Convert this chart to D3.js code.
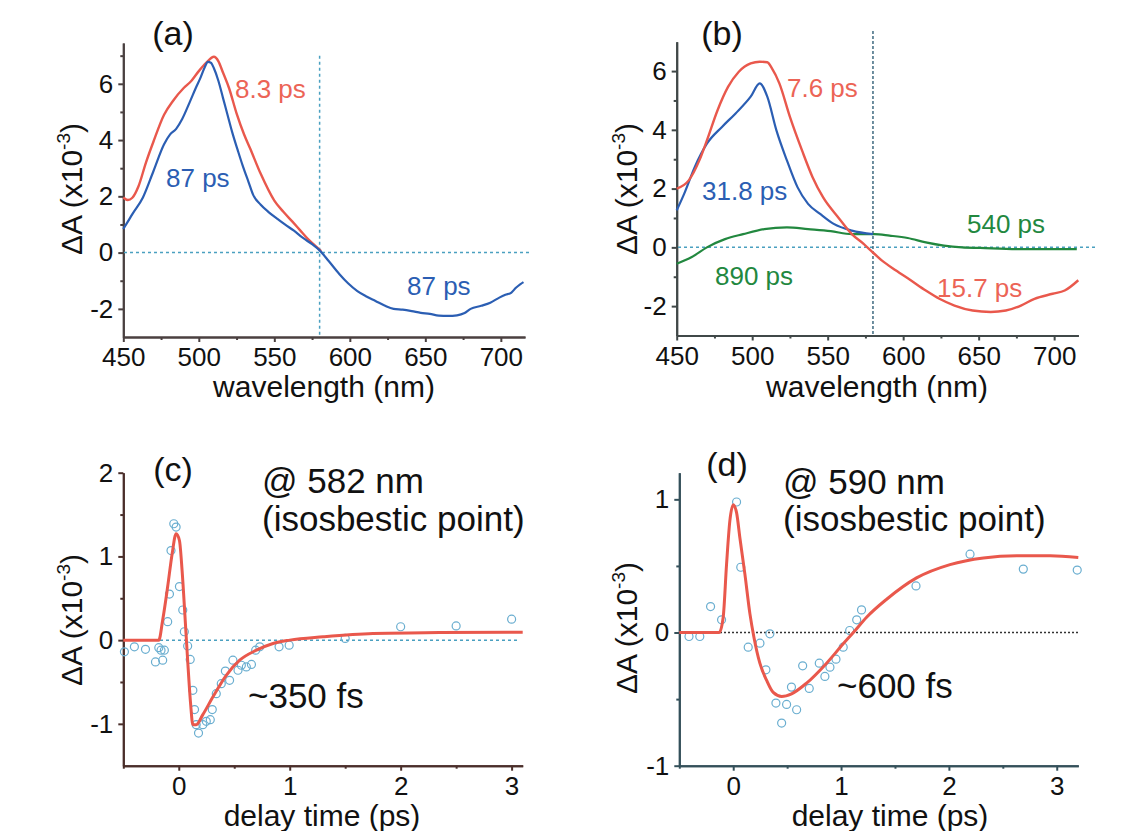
<!DOCTYPE html>
<html>
<head>
<meta charset="utf-8">
<title>Transient absorption</title>
<script src="https://d3js.org/d3.v7.min.js"></script>
<style>
  body { margin: 0; background: #fff; }
  text { font-family: "Liberation Sans", Arial, sans-serif; }
</style>
</head>
<body>
<div id="chart"></div>
<script>
/* global d3 */

// (a) spectra, 8.3 ps and 87 ps components
const wlA_red  = [450,453,456,460,465,470,477,483,490,495,500,505,510,513,516,520,525,530,534,541,550,556,562,567,572,577,581];
const valA_red = [1.96,1.87,1.95,2.35,3.2,3.95,4.9,5.4,5.85,6.1,6.45,6.75,6.96,6.8,6.4,5.85,4.95,4.2,3.7,2.8,1.85,1.45,1.1,0.8,0.5,0.25,0.05];
const wlA_blue  = [450,453,456,463,470,477,481,485,489,494,498,501,504,506,508,510,513,516,519,522,526,529,533,536,541,546,552,557,563,569,575,580,586,593,599,605,611,617,623,629,635,641,647,653,659,665,671,676,680,687,693,699,703,707,710,713,715];
const valA_blue = [0.84,1.1,1.37,1.96,2.9,3.85,4.2,4.4,4.75,5.35,5.85,6.2,6.6,6.78,6.75,6.55,6.1,5.5,4.9,4.3,3.6,3.1,2.5,2.05,1.7,1.45,1.2,1.0,0.78,0.52,0.3,0.08,-0.3,-0.76,-1.1,-1.37,-1.56,-1.72,-1.88,-2.0,-2.03,-2.08,-2.14,-2.18,-2.24,-2.25,-2.23,-2.15,-2.0,-1.89,-1.78,-1.6,-1.5,-1.42,-1.25,-1.12,-1.05];

// (b) spectra, 7.6/15.7 ps, 31.8 ps and 890/540 ps components
const wlB_red  = [450,458,465,470,477,484,491,499,505,510,513,518,525,533,540,547,557,566,574,579,586,595,605,615,624,634,646,658,668,678,687,699,707,716];
const valB_red = [2.0,2.28,2.96,3.64,4.66,5.46,5.97,6.26,6.32,6.3,6.1,5.58,4.44,3.3,2.39,1.7,1.02,0.45,0.11,-0.13,-0.45,-0.78,-1.12,-1.47,-1.75,-1.98,-2.15,-2.2,-2.15,-1.98,-1.75,-1.58,-1.47,-1.12];
const wlB_blue  = [450,455,462,470,480,489,499,505,510,516,523,530,537,545,554,566,580];
const valB_blue = [1.26,1.83,2.74,3.53,4.1,4.56,5.13,5.58,5.13,3.99,2.96,2.05,1.48,1.14,0.8,0.57,0.45];
const wlB_green  = [450,460,470,482,494,508,523,537,552,566,581,591,603,615,627,639,651,675,699,715];
const valB_green = [-0.56,-0.33,0,0.28,0.45,0.62,0.68,0.62,0.55,0.45,0.45,0.4,0.32,0.17,0.06,0,-0.02,-0.06,-0.06,-0.06];

// (c) kinetics @ 582 nm
const tC_fit = [-0.5,-0.18,-0.145,-0.1,-0.06,-0.024,0.006,0.03,0.058,0.08,0.106,0.127,0.157,0.217,0.307,0.428,0.549,0.7,0.85,1.0,1.3,1.75,2.35,3.1];
const vC_fit = [0,0,0.24,0.64,1.03,1.27,1.19,0.83,0.24,-0.24,-0.75,-1.01,-1.01,-0.89,-0.68,-0.42,-0.24,-0.12,-0.04,0,0.04,0.08,0.09,0.095];
const tC_pts = [-0.49,-0.4,-0.3,-0.21,-0.18,-0.16,-0.145,-0.13,-0.1,-0.084,-0.07,-0.045,-0.024,0.006,0.036,0.05,0.08,0.103,0.127,0.142,0.157,0.178,0.217,0.248,0.284,0.302,0.338,0.383,0.42,0.458,0.488,0.534,0.564,0.609,0.655,0.693,0.73,0.904,0.995,1.5,2.0,2.5,3.0];
const vC_pts = [-0.14,-0.08,-0.11,-0.26,-0.09,-0.12,-0.24,-0.12,0.22,0.55,1.07,1.39,1.35,0.64,0.36,0.1,-0.07,-0.23,-0.6,-0.83,-1.01,-1.11,-1.01,-0.97,-0.95,-0.83,-0.64,-0.52,-0.37,-0.48,-0.24,-0.36,-0.3,-0.32,-0.29,-0.12,-0.08,-0.08,-0.06,0.02,0.16,0.17,0.25];

// (d) kinetics @ 590 nm
const tD_fit = [-0.5,-0.13,-0.093,-0.062,-0.031,0,0.031,0.062,0.108,0.155,0.192,0.247,0.31,0.371,0.449,0.541,0.68,0.866,1.02,1.114,1.237,1.423,1.7,2.01,2.32,2.63,2.94,3.2];
const vD_fit = [0,0,0.115,0.51,0.84,0.96,0.9,0.71,0.44,0.14,-0.035,-0.23,-0.36,-0.45,-0.48,-0.46,-0.38,-0.23,-0.085,0,0.115,0.25,0.41,0.51,0.56,0.576,0.576,0.564];
const tD_pts = [-0.41,-0.31,-0.21,-0.108,0.031,0.07,0.139,0.248,0.34,0.303,0.54,0.396,0.495,0.588,0.449,0.644,0.705,0.798,0.85,0.897,0.953,1.02,1.08,1.145,1.19,1.695,2.196,2.69,3.19];
const vD_pts = [-0.03,-0.03,0.195,0.095,0.98,0.49,-0.11,-0.08,-0.01,-0.28,-0.41,-0.53,-0.54,-0.58,-0.68,-0.25,-0.42,-0.23,-0.33,-0.26,-0.2,-0.11,0.015,0.095,0.17,0.35,0.588,0.476,0.469];

const xTicksWl = [450, 500, 550, 600, 650, 700];
const xMinorWl = [475, 525, 575, 625, 675];
const yTicksSpec = [-2, 0, 2, 4, 6];
const yMinorSpec = [-1, 1, 3, 5, 7];

const RED = '#e9584c', BLUE = '#2b5eb3', GREEN = '#22883f', TEAL = '#4aa0c0';
const RED_TXT = '#ec6456';

const svg = d3.select('#chart').append('svg')
    .attr('width', 1132).attr('height', 831)
    .style('background', '#fff');

const fmt = d => String(d);   // plain hyphen minus, like the original

function panel(o) {
  const g = svg.append('g');
  const x = d3.scaleLinear().domain(o.xd).range(o.xr);
  const y = d3.scaleLinear().domain(o.yd).range(o.yr);
  const bottom = o.yr[0], left = o.xr[0];

  // minor ticks first, then labelled ticks
  g.append('g').attr('transform', `translate(0,${bottom})`)
    .call(d3.axisBottom(x).tickValues(o.xMinor).tickSize(3).tickSizeOuter(0).tickFormat(''));
  g.append('g').attr('transform', `translate(${left},0)`)
    .call(d3.axisLeft(y).tickValues(o.yMinor).tickSize(3).tickSizeOuter(0).tickFormat(''));
  g.append('g').attr('transform', `translate(0,${bottom})`)
    .call(d3.axisBottom(x).tickValues(o.xTicks).tickSize(5).tickSizeOuter(0).tickPadding(6).tickFormat(fmt))
    .selectAll('text').style('font-size', '26px').attr('fill', '#111');
  g.append('g').attr('transform', `translate(${left},0)`)
    .call(d3.axisLeft(y).tickValues(o.yTicks).tickSize(5).tickSizeOuter(0).tickPadding(5).tickFormat(fmt))
    .selectAll('text').style('font-size', '26px').attr('fill', '#111');
  g.selectAll('.domain, .tick line').attr('stroke', o.axisColor).attr('stroke-width', 2);
  return { g, x, y };
}

function curve(p, xs, ys, color, width) {
  const pts = xs.map((d, i) => [d, ys[i]]);
  p.g.append('path')
    .attr('d', d3.line().x(d => p.x(d[0])).y(d => p.y(d[1])).curve(d3.curveMonotoneX)(pts))
    .attr('fill', 'none').attr('stroke', color).attr('stroke-width', width)
    .attr('stroke-linejoin', 'round');
}

function dots(p, xs, ys) {
  p.g.selectAll(null).data(xs.map((d, i) => [d, ys[i]])).enter().append('circle')
    .attr('cx', d => p.x(d[0])).attr('cy', d => p.y(d[1])).attr('r', 4)
    .attr('fill', 'none').attr('stroke', '#6aaed0').attr('stroke-width', 1.2);
}

function hline(p, x1px, x2px, color, dash) {
  p.g.append('line').attr('x1', x1px).attr('x2', x2px)
    .attr('y1', p.y(0)).attr('y2', p.y(0))
    .attr('stroke', color).attr('stroke-width', 1.5).attr('stroke-dasharray', dash);
}

function vline(p, xv, y1px, y2px, color, dash) {
  p.g.append('line').attr('x1', p.x(xv)).attr('x2', p.x(xv))
    .attr('y1', y1px).attr('y2', y2px)
    .attr('stroke', color).attr('stroke-width', 1.5).attr('stroke-dasharray', dash);
}

function label(x, y, txt, size, color, anchor) {
  svg.append('text').attr('x', x).attr('y', y).text(txt)
    .style('font-size', size + 'px').attr('fill', color || '#111')
    .attr('text-anchor', anchor || 'start');
}

function yTitle(x, y) {
  const t = svg.append('text').attr('transform', `translate(${x},${y}) rotate(-90)`)
    .attr('text-anchor', 'middle').style('font-size', '30px').attr('fill', '#111');
  t.append('tspan').text('ΔA (x10');
  t.append('tspan').text('-3').style('font-size', '19px').attr('dy', -12);
  t.append('tspan').text(')').attr('dy', 12);
}

// ---- (a)
const pa = panel({ xd: [450, 716], xr: [123.3, 525], yd: [-3, 7.45], yr: [337, 43],
  xTicks: xTicksWl, xMinor: xMinorWl, yTicks: yTicksSpec, yMinor: yMinorSpec, axisColor: '#4a4040' });
hline(pa, 124, 532, TEAL, '3,3');
vline(pa, 580, pa.y(7.0), 336, TEAL, '3,3');
curve(pa, wlA_red, valA_red, RED, 2.4);
curve(pa, wlA_blue, valA_blue, BLUE, 2.2);
label(173, 45, '(a)', 34, '#111', 'middle');
label(235, 98, '8.3 ps', 26, RED_TXT);
label(166, 187, '87 ps', 26, BLUE);
label(407, 295, '87 ps', 26, BLUE);
label(324, 397, 'wavelength (nm)', 30, '#111', 'middle');
yTitle(82, 189);

// ---- (b)
const pb = panel({ xd: [450, 716], xr: [676.7, 1078.3], yd: [-3, 7], yr: [335.5, 41.7],
  xTicks: xTicksWl, xMinor: xMinorWl, yTicks: yTicksSpec, yMinor: [-1, 1, 3, 5], axisColor: '#404848' });
hline(pb, 678, 1097, TEAL, '3,3');
vline(pb, 580, 31, 335, '#3f6a80', '3,2');
curve(pb, wlB_green, valB_green, GREEN, 2.2);
curve(pb, wlB_blue, valB_blue, BLUE, 2.2);
curve(pb, wlB_red, valB_red, RED, 2.4);
label(722, 45, '(b)', 34, '#111', 'middle');
label(787, 97, '7.6 ps', 26, RED_TXT);
label(702, 200, '31.8 ps', 26, BLUE);
label(967, 233, '540 ps', 26, GREEN);
label(715, 285, '890 ps', 26, GREEN);
label(937, 297, '15.7 ps', 26, RED_TXT);
label(877, 397, 'wavelength (nm)', 30, '#111', 'middle');
yTitle(637, 189);

// ---- (c)
const pc = panel({ xd: [-0.5, 3.1], xr: [123.3, 522.7], yd: [-1.5, 2], yr: [765.7, 472.7],
  xTicks: [0, 1, 2, 3], xMinor: [-0.5, 0.5, 1.5, 2.5], yTicks: [-1, 0, 1, 2], yMinor: [-0.5, 0.5, 1.5],
  axisColor: '#4a2e2a' });
hline(pc, 124, 518, TEAL, '3,3');
dots(pc, tC_pts, vC_pts);
curve(pc, tC_fit, vC_fit, RED, 3);
label(173, 481, '(c)', 34, '#111', 'middle');
label(262, 493, '@ 582 nm', 35);
label(262, 531, '(isosbestic point)', 35);
label(248, 708, '~350 fs', 35);
label(322, 826, 'delay time (ps)', 30, '#111', 'middle');
yTitle(82, 620);

// ---- (d)
const pd = panel({ xd: [-0.5, 3.2], xr: [679.3, 1078.3], yd: [-1, 1.2], yr: [765.7, 472.7],
  xTicks: [0, 1, 2, 3], xMinor: [-0.5, 0.5, 1.5, 2.5], yTicks: [-1, 0, 1], yMinor: [-0.5, 0.5],
  axisColor: '#34505a' });
hline(pd, 680, 1078, '#333', '2,2');
dots(pd, tD_pts, vD_pts);
curve(pd, tD_fit, vD_fit, RED, 3);
label(727, 476, '(d)', 34, '#111', 'middle');
label(783, 494, '@ 590 nm', 35);
label(783, 531, '(isosbestic point)', 35);
label(837, 698, '~600 fs', 35);
label(890, 826, 'delay time (ps)', 30, '#111', 'middle');
yTitle(637, 628);
</script>
</body>
</html>
